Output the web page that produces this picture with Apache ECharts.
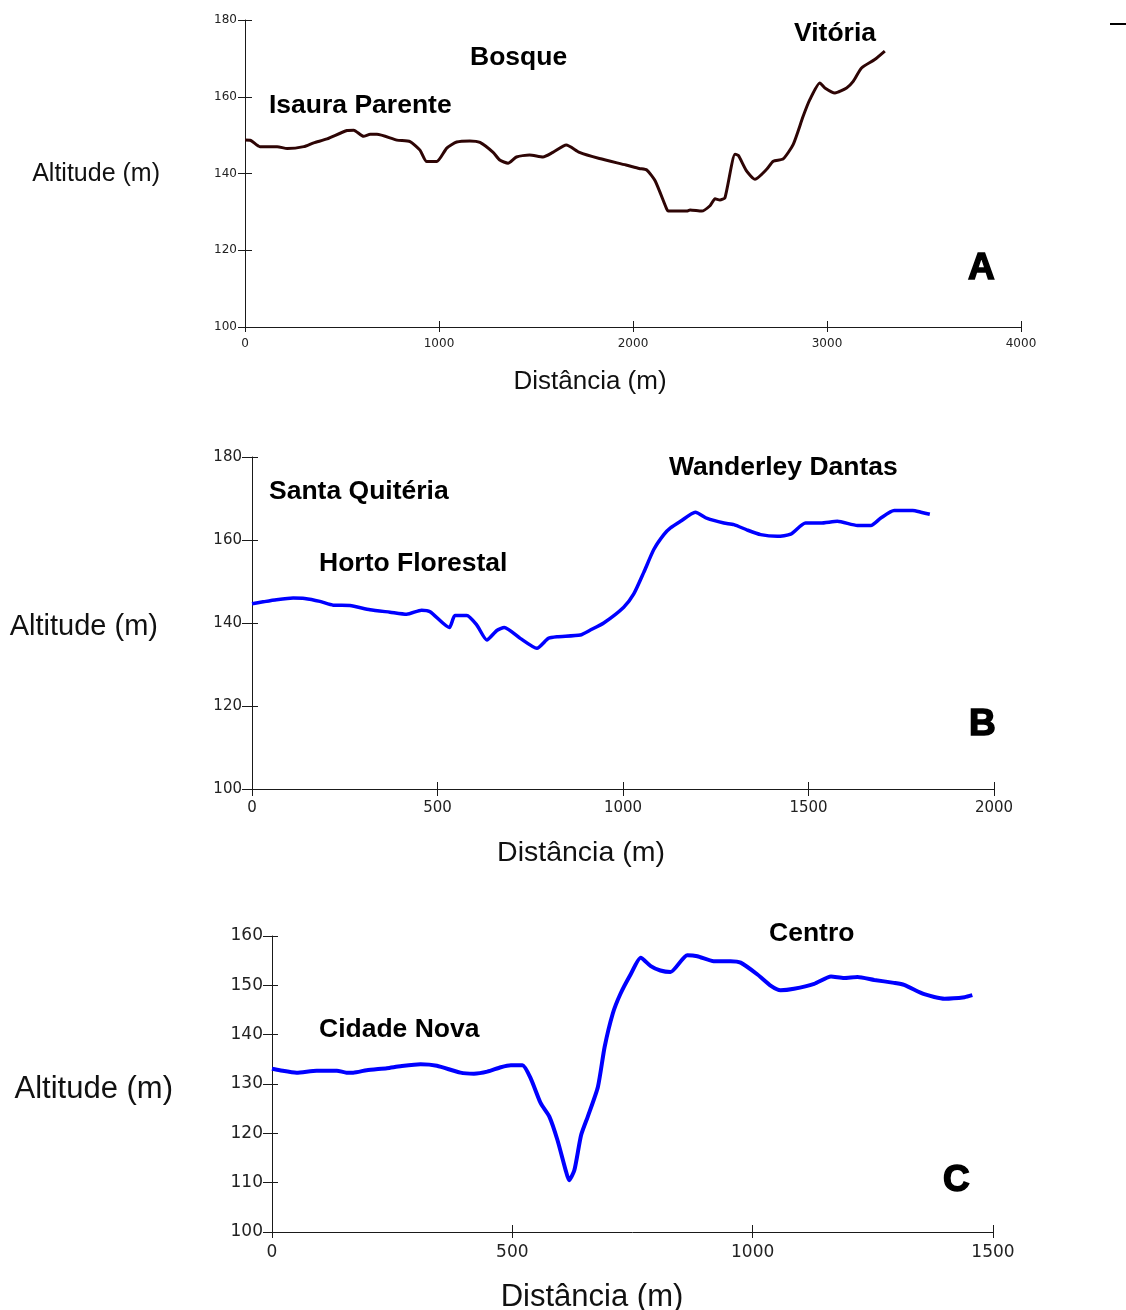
<!DOCTYPE html>
<html>
<head>
<meta charset="utf-8">
<script src="https://cdn.jsdelivr.net/npm/echarts@6/dist/echarts.min.js"></script>
<style>
  html, body { margin: 0; padding: 0; background: #fff; }
  #chart { width: 1126px; height: 1310px; }
</style>
</head>
<body>
<div id="chart"></div>
<script>
// Profile A: distance (m) and altitude (m)
const distA = [0,30,77,166,218,303,354,423,526,560,611,646,680,783,851,902,937,988,1040,1091,1159,1211,1279,1313,1356,1399,1467,1536,1587,1656,1724,1827,1964,2032,2071,2114,2174,2182,2277,2294,2354,2397,2423,2448,2474,2526,2543,2586,2629,2689,2723,2774,2826,2877,2912,2963,2989,3041,3101,3135,3178,3246,3298];
const altA  = [148.7,148.6,147,147,146.5,147,148,149,151.2,151.3,149.7,150.2,150.2,148.7,148.3,146.1,143.1,143.1,146.6,148.2,148.5,148.1,145.5,143.5,142.7,144.3,144.8,144.3,145.5,147.4,145.5,143.9,142.2,141.3,140.9,138.1,130.7,130.2,130.2,130.5,130.2,131.6,133.4,133.1,133.7,145.0,144.7,140.6,138.5,141.1,143.2,143.8,147.6,154.9,159.3,163.6,162.3,161.0,162.3,164.0,167.5,169.7,171.9];

// Profile B
const distB = [0,30,66,111,142,183,219,264,318,372,417,457,480,532,547,579,606,633,660,680,723,768,799,822,885,912,948,1002,1029,1056,1083,1110,1128,1155,1195,1227,1272,1299,1335,1371,1416,1452,1492,1533,1578,1632,1668,1695,1731,1781,1803,1827];
const altB  = [144.65,145.1,145.6,146,145.9,145.2,144.3,144.2,143.2,142.6,142.1,143.1,142.7,138.9,141.8,141.8,139.5,135.9,138.2,138.9,136.3,133.9,136.3,136.7,137.1,138.3,140.0,143.8,147.0,152.2,157.7,161.3,162.9,164.5,166.7,165.2,164.1,163.7,162.4,161.3,160.9,161.4,164.1,164.1,164.5,163.5,163.5,165.3,167.1,167.1,166.7,166.2];

// Profile C
const distC = [0,16,51,93,135,155,169,197,239,267,309,343,392,420,448,476,497,521,538,559,577,594,611,618,629,643,657,678,692,709,725,746,767,788,808,829,864,885,919,954,975,1010,1038,1058,1086,1128,1163,1190,1218,1253,1294,1315,1357,1399,1441,1457];
const altC  = [133.1,132.8,132.3,132.7,132.7,132.3,132.3,132.8,133.2,133.6,134.0,133.7,132.3,132.1,132.5,133.4,133.8,133.8,131.2,126.1,123.4,118.6,112.5,110.5,112.5,119.6,123.4,129.4,137.5,144.3,148.3,152.2,155.6,153.9,153.0,152.7,156.1,155.9,154.9,154.9,154.6,152.2,149.9,149.0,149.3,150.3,151.8,151.5,151.7,151.1,150.5,150.1,148.2,147.3,147.6,148.0];

// Axis ranges
const xRangeA = { min: 0, max: 4000, interval: 1000 };
const yRangeA = { min: 100, max: 180, interval: 20 };
const xRangeB = { min: 0, max: 2000, interval: 500 };
const yRangeB = { min: 100, max: 180, interval: 20 };
const xRangeC = { min: 0, max: 1500, interval: 500 };
const yRangeC = { min: 100, max: 160, interval: 10 };

// Titles and place names
const xTitle = 'Distância (m)';
const yTitle = 'Altitude (m)';
const placesA = ['Isaura Parente', 'Bosque', 'Vitória'];
const placesB = ['Santa Quitéria', 'Horto Florestal', 'Wanderley Dantas'];
const placesC = ['Cidade Nova', 'Centro'];
const panelLetters = ['A', 'B', 'C'];

const pairs = (xs, ys) => xs.map((x, i) => [x, ys[i]]);
const plain = (v) => String(v);

const AXIS_COLOR = '#1a1a1a';
const LABEL_COLOR = '#222';

function xAxes(gridIndex, range, fontSize, margin, outLen, inLen) {
  return [
    {
      type: 'value', gridIndex, position: 'bottom', ...range,
      axisLine: { show: true, lineStyle: { color: AXIS_COLOR, width: 1 } },
      axisTick: { show: true, inside: false, length: outLen, lineStyle: { color: AXIS_COLOR, width: 1 } },
      axisLabel: { show: true, margin, color: LABEL_COLOR, fontFamily: 'DejaVu Sans', fontSize, verticalAlign: 'top', formatter: plain },
      splitLine: { show: false }
    },
    {
      type: 'value', gridIndex, position: 'bottom', ...range,
      axisLine: { show: false },
      axisTick: { show: true, inside: true, length: inLen, lineStyle: { color: AXIS_COLOR, width: 1 } },
      axisLabel: { show: false },
      splitLine: { show: false }
    }
  ];
}

function yAxes(gridIndex, range, fontSize, margin, outLen, inLen) {
  return [
    {
      type: 'value', gridIndex, position: 'left', ...range,
      axisLine: { show: true, lineStyle: { color: AXIS_COLOR, width: 1 } },
      axisTick: { show: true, inside: false, length: outLen, lineStyle: { color: AXIS_COLOR, width: 1 } },
      axisLabel: { show: true, margin, color: LABEL_COLOR, fontFamily: 'DejaVu Sans', fontSize, formatter: plain },
      splitLine: { show: false }
    },
    {
      type: 'value', gridIndex, position: 'left', ...range,
      axisLine: { show: false },
      axisTick: { show: true, inside: true, length: inLen, lineStyle: { color: AXIS_COLOR, width: 1 } },
      axisLabel: { show: false },
      splitLine: { show: false }
    }
  ];
}

function label(text, x, y, size, bold, extra) {
  return {
    type: 'text', x, y, silent: true,
    style: Object.assign({
      text, fill: '#000',
      font: (bold ? 'bold ' : '') + size + 'px "Liberation Sans", Arial, sans-serif',
      textAlign: 'left', textVerticalAlign: 'middle'
    }, extra || {})
  };
}

function title(text, x, y, size, align) {
  return {
    type: 'text', x, y, silent: true,
    style: {
      text, fill: '#111',
      font: size + 'px "Liberation Sans", Arial, sans-serif',
      textAlign: align, textVerticalAlign: 'middle'
    }
  };
}

const heavy = { stroke: '#000', lineWidth: 1.5 };

const option = {
  backgroundColor: '#fff',
  animation: false,
  grid: [
    { left: 245, top: 20, width: 776, height: 307, outerBoundsMode: 'none' },
    { left: 252, top: 457, width: 742, height: 332, outerBoundsMode: 'none' },
    { left: 272, top: 936, width: 721, height: 296, outerBoundsMode: 'none' }
  ],
  xAxis: [
    ...xAxes(0, xRangeA, 12, 11, 5, 6),
    ...xAxes(1, xRangeB, 15, 12, 7, 7),
    ...xAxes(2, xRangeC, 17, 12, 6, 7)
  ],
  yAxis: [
    ...yAxes(0, yRangeA, 12, 8, 7, 7),
    ...yAxes(1, yRangeB, 15, 10, 10, 6),
    ...yAxes(2, yRangeC, 17, 9, 9, 6)
  ],
  series: [
    {
      type: 'line', xAxisIndex: 0, yAxisIndex: 0, data: pairs(distA, altA),
      showSymbol: false, smooth: 0.2,
      lineStyle: { color: '#2e0505', width: 3 }
    },
    {
      type: 'line', xAxisIndex: 2, yAxisIndex: 2, data: pairs(distB, altB),
      showSymbol: false, smooth: 0.2,
      lineStyle: { color: '#0000ff', width: 3.5 }
    },
    {
      type: 'line', xAxisIndex: 4, yAxisIndex: 4, data: pairs(distC, altC),
      showSymbol: false, smooth: 0.2,
      lineStyle: { color: '#0000ff', width: 4 }
    }
  ],
  graphic: [
    // axis titles
    title(yTitle, 160, 174, 25, 'right'),
    title(xTitle, 590, 382, 26, 'center'),
    title(yTitle, 158, 627, 29, 'right'),
    title(xTitle, 581, 853, 28.5, 'center'),
    title(yTitle, 173, 1089, 31, 'right'),
    title(xTitle, 592, 1297, 31, 'center'),
    // place names
    label(placesA[0], 269, 106, 26.5, true),
    label(placesA[1], 470, 58, 26.5, true),
    label(placesA[2], 794, 34, 26.5, true),
    label(placesB[0], 269, 492, 26.5, true),
    label(placesB[1], 319, 564, 26.5, true),
    label(placesB[2], 669, 468, 26.5, true),
    label(placesC[0], 319, 1030, 26.5, true),
    label(placesC[1], 769, 934, 26.5, true),
    // panel letters
    label(panelLetters[0], 968, 269, 37, true, heavy),
    label(panelLetters[1], 969, 725, 37, true, heavy),
    label(panelLetters[2], 943, 1181, 37, true, heavy),
    // short mark at the top right corner
    { type: 'rect', silent: true, shape: { x: 1110, y: 23, width: 16, height: 2 }, style: { fill: '#000' } }
  ]
};

const chart = echarts.init(document.getElementById('chart'), null, { renderer: 'canvas' });
chart.setOption(option);
</script>
</body>
</html>
